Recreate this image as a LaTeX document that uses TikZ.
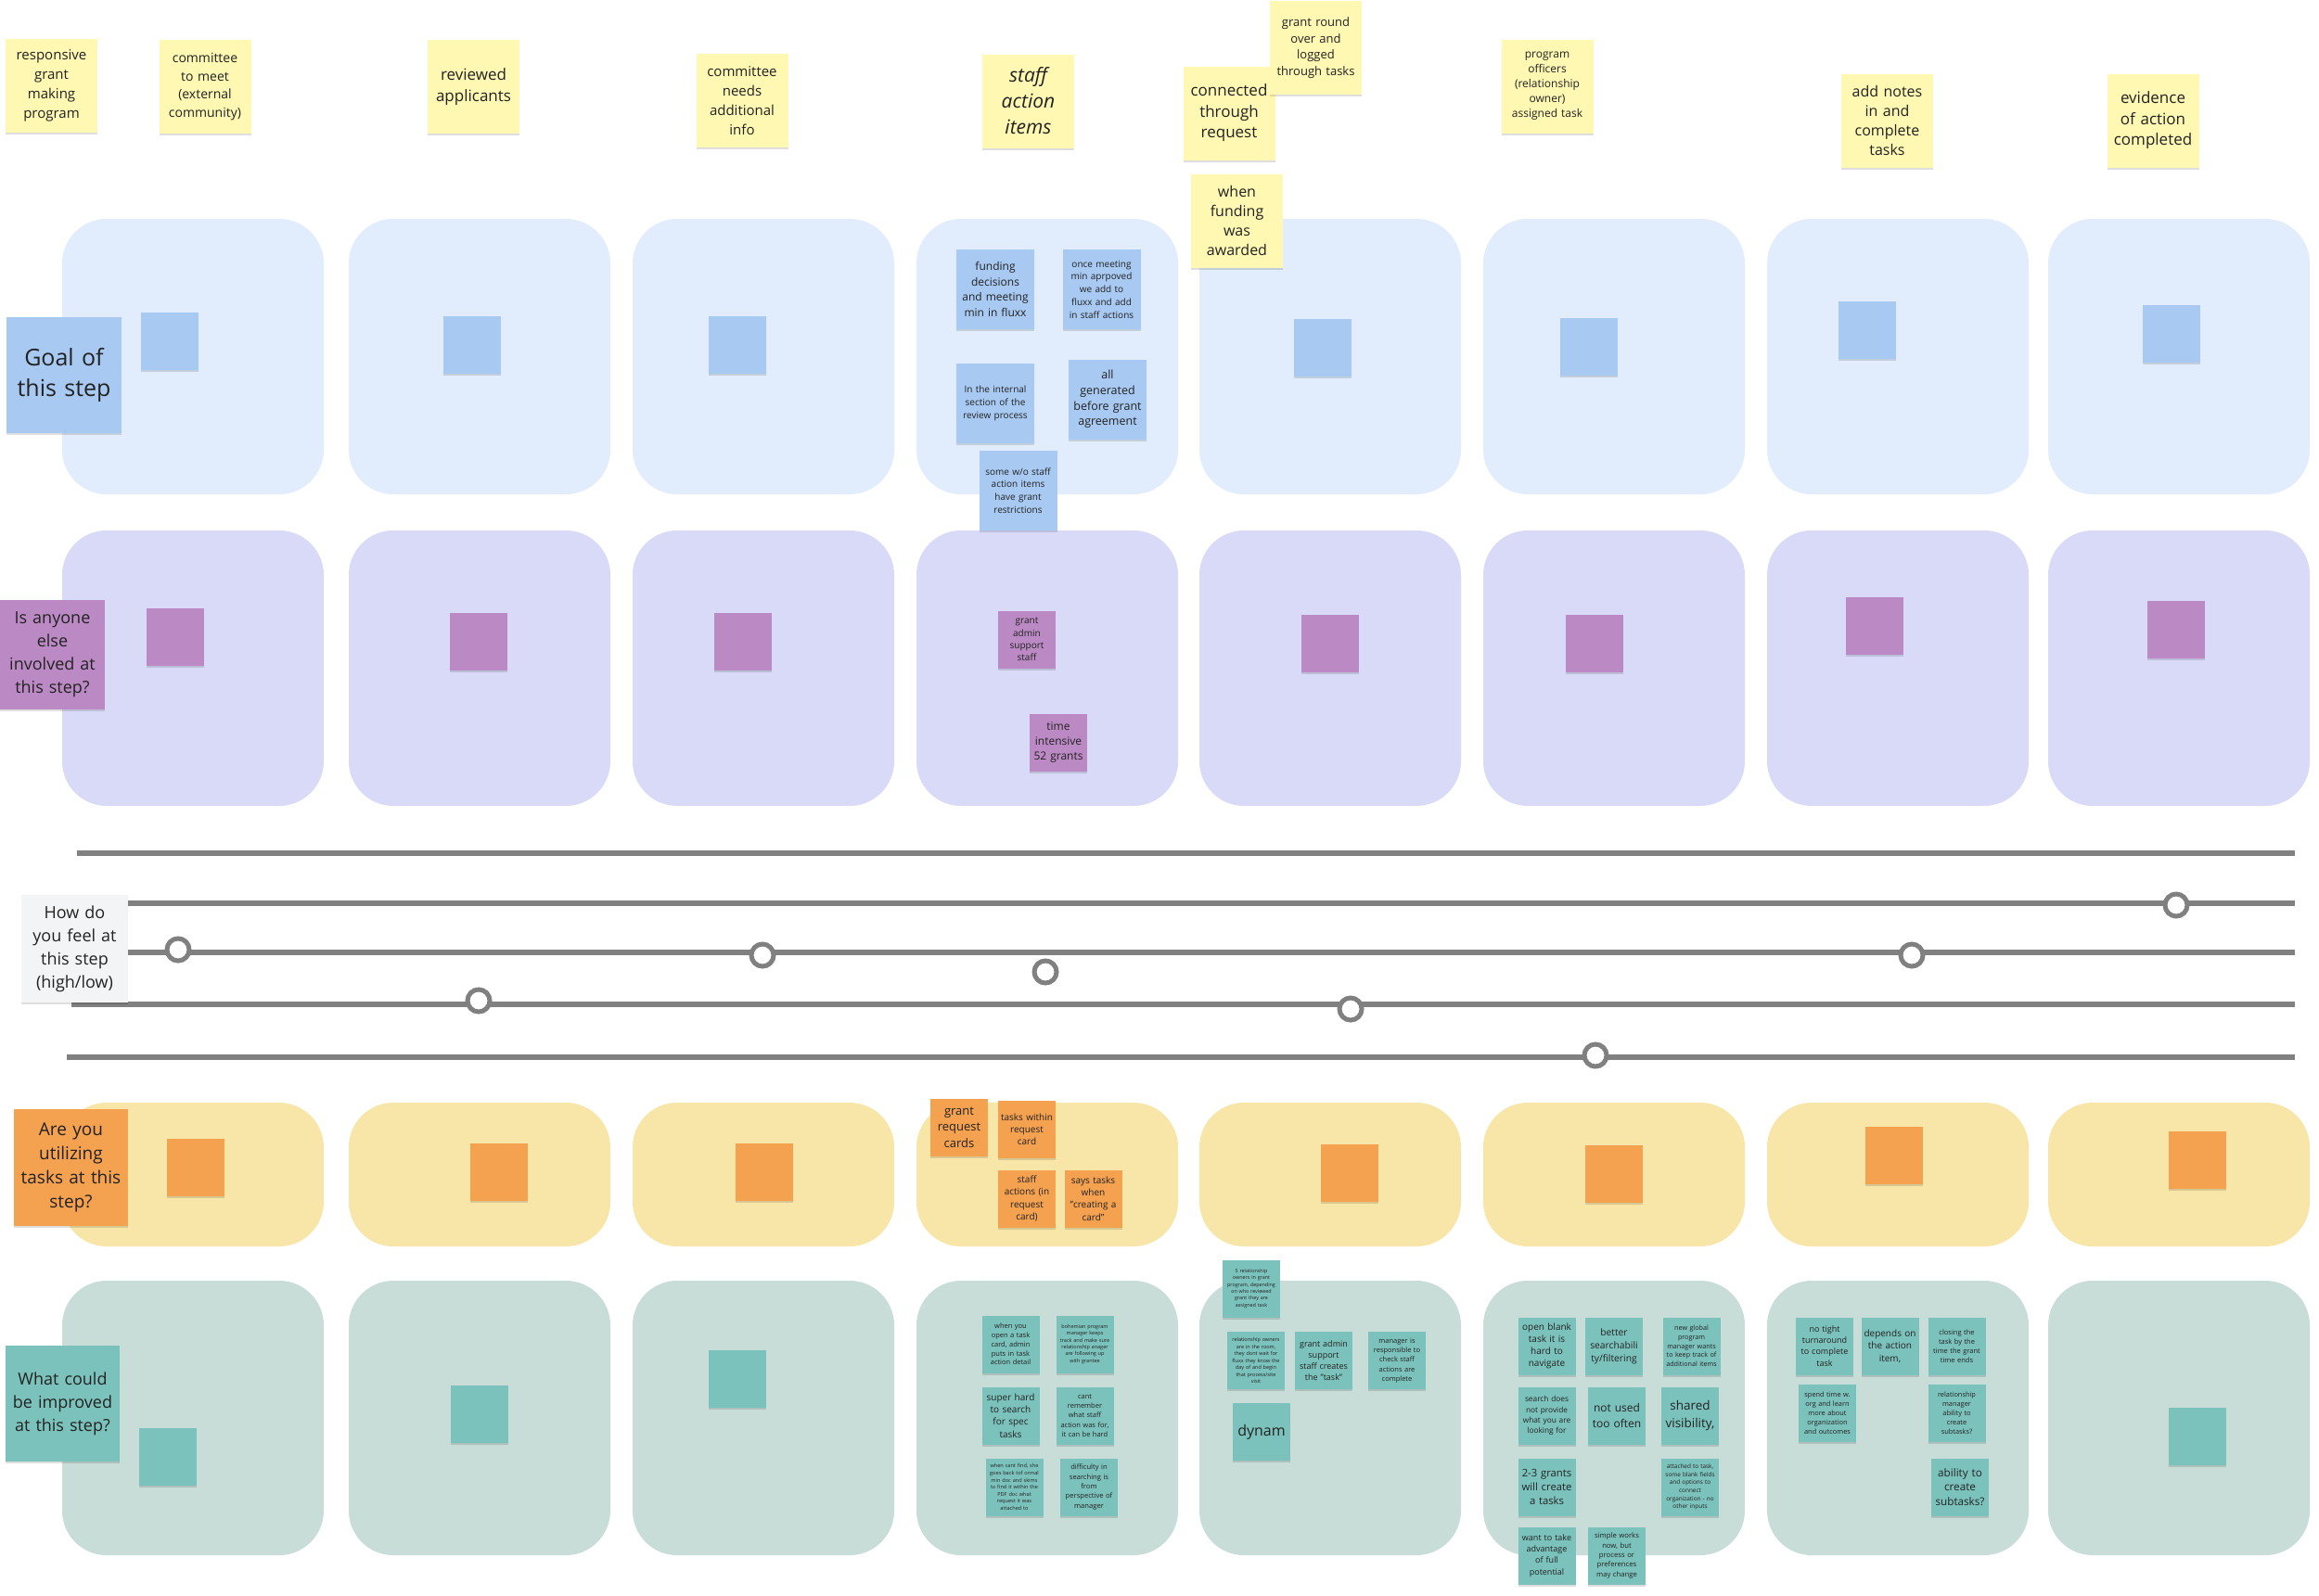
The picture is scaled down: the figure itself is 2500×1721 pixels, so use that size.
\documentclass[tikz,border=0pt]{standalone}
\usepackage{fontspec}
\setmainfont{Open Sans}
\usetikzlibrary{shadows}
\definecolor{ink}{HTML}{222222}
\definecolor{paper}{HTML}{FFF8B3}
\definecolor{goalbg}{HTML}{E1EDFC}
\definecolor{whobg}{HTML}{D8DAF8}
\definecolor{taskbg}{HTML}{F8E6A8}
\definecolor{fixbg}{HTML}{C8DDD7}
\definecolor{goalnote}{HTML}{A8C9F1}
\definecolor{whonote}{HTML}{BB8AC4}
\definecolor{tasknote}{HTML}{F4A150}
\definecolor{fixnote}{HTML}{7CC2BC}
\definecolor{feelnote}{HTML}{F3F4F6}
\definecolor{trackgray}{HTML}{808080}
\newcommand{\fs}[2]{\fontsize{#1}{#2}\selectfont}

\begin{document}
\begin{tikzpicture}[x=1pt, y=-1pt,
  lane/.style={rounded corners=48},
  stk/.style={align=center, text=ink, inner sep=0, outer sep=0,
    drop shadow={shadow xshift=0pt, shadow yshift=-2pt, opacity=0.13, fill=black}},
  topnote/.style={stk, fill=paper, minimum width=99, minimum height=101, text width=99},
  sidenote/.style={stk, minimum width=123, minimum height=125, text width=123},
  blanknote/.style={stk, minimum size=62, text width=62},
  midnote/.style={stk, fill=goalnote, minimum width=84, minimum height=86, text width=84},
  feelline/.style={draw=trackgray, line width=6},
  feeldot/.style={circle, draw=trackgray, line width=5, fill=white, minimum size=24, inner sep=0}]

% Background
\fill[white] (0,0) rectangle (2500,1721);
\useasboundingbox (0,0) rectangle (2500,1721);

% Lanes: goal
\fill[lane, goalbg] (67,236) rectangle (349,533);
\fill[lane, goalbg] (376,236) rectangle (658,533);
\fill[lane, goalbg] (682,236) rectangle (964,533);
\fill[lane, goalbg] (988,236) rectangle (1270,533);
\fill[lane, goalbg] (1293,236) rectangle (1575,533);
\fill[lane, goalbg] (1599,236) rectangle (1881,533);
\fill[lane, goalbg] (1905,236) rectangle (2187,533);
\fill[lane, goalbg] (2208,236) rectangle (2490,533);

% Lanes: who else
\fill[lane, whobg] (67,572) rectangle (349,869);
\fill[lane, whobg] (376,572) rectangle (658,869);
\fill[lane, whobg] (682,572) rectangle (964,869);
\fill[lane, whobg] (988,572) rectangle (1270,869);
\fill[lane, whobg] (1293,572) rectangle (1575,869);
\fill[lane, whobg] (1599,572) rectangle (1881,869);
\fill[lane, whobg] (1905,572) rectangle (2187,869);
\fill[lane, whobg] (2208,572) rectangle (2490,869);

% Lanes: tasks
\fill[lane, taskbg] (67,1189) rectangle (349,1344);
\fill[lane, taskbg] (376,1189) rectangle (658,1344);
\fill[lane, taskbg] (682,1189) rectangle (964,1344);
\fill[lane, taskbg] (988,1189) rectangle (1270,1344);
\fill[lane, taskbg] (1293,1189) rectangle (1575,1344);
\fill[lane, taskbg] (1599,1189) rectangle (1881,1344);
\fill[lane, taskbg] (1905,1189) rectangle (2187,1344);
\fill[lane, taskbg] (2208,1189) rectangle (2490,1344);

% Lanes: improve
\fill[lane, fixbg] (67,1381) rectangle (349,1677);
\fill[lane, fixbg] (376,1381) rectangle (658,1677);
\fill[lane, fixbg] (682,1381) rectangle (964,1677);
\fill[lane, fixbg] (988,1381) rectangle (1270,1677);
\fill[lane, fixbg] (1293,1381) rectangle (1575,1677);
\fill[lane, fixbg] (1599,1381) rectangle (1881,1677);
\fill[lane, fixbg] (1905,1381) rectangle (2187,1677);
\fill[lane, fixbg] (2208,1381) rectangle (2490,1677);

% Feeling scale
\draw[feelline] (83,920) -- (2474,920);
\draw[feelline] (120,974) -- (2474,974);
\draw[feelline] (120,1027) -- (2474,1027);
\draw[feelline] (77,1083) -- (2474,1083);
\draw[feelline] (72,1140) -- (2474,1140);

% Steps
\node[topnote, font=\fs{15}{21}] (s1) at (55.5,92.5) {responsive\\grant\\making\\program};
\node[topnote, font=\fs{14}{19.5}] (s2) at (221,93.5) {committee\\to meet\\(external\\community)};
\node[topnote, font=\fs{17}{23}] (s3) at (510.5,93.5) {reviewed\\applicants};
\node[topnote, font=\fs{15}{21}] (s4) at (800,108.5) {committee\\needs\\additional\\info};
\node[topnote, font={\fs{21}{28}\itshape}] (s5) at (1108.5,109) {staff\\action\\items};
\node[topnote, font=\fs{17}{22.5}] (s6) at (1325,122) {connected\\through\\request};
\node[topnote, font=\fs{13}{17.5}] (s6b) at (1418.5,51.5) {grant round\\over and\\logged\\through tasks};
\node[topnote, font=\fs{16}{21}] (s6c) at (1333.5,238) {when\\funding\\was\\awarded};
\node[topnote, font=\fs{12}{16}] (s7) at (1668,93) {program\\officers\\(relationship\\owner)\\assigned task};
\node[topnote, font=\fs{16}{21}] (s8) at (2034.5,130) {add notes\\in and\\complete\\tasks};
\node[topnote, font=\fs{17}{22.5}] (s9) at (2321,130) {evidence\\of action\\completed};

% Row questions
\node[sidenote, fill=goalnote, minimum width=124, text width=124, font=\fs{25}{33}] (goal) at (69,404) {Goal of\\this step};
\node[sidenote, fill=whonote, minimum width=113, text width=113, minimum height=118, font=\fs{18}{25}] (who) at (56.5,706) {Is anyone\\else\\involved at\\this step?};
\node[sidenote, fill=feelnote, minimum width=115, text width=115, minimum height=116, font=\fs{18}{25}] (feel) at (80.5,1023) {How do\\you feel at\\this step\\(high/low)};
\node[sidenote, fill=tasknote, minimum height=126, font=\fs{19}{26}] (uses) at (76.5,1259) {Are you\\utilizing\\tasks at this\\step?};
\node[sidenote, fill=fixnote, font=\fs{18}{25}] (fix) at (67.5,1513.5) {What could\\be improved\\at this step?};

% Feeling marks
\node[feeldot] (f1) at (192,1024) {};
\node[feeldot] (f2) at (516,1079) {};
\node[feeldot] (f3) at (822,1030) {};
\node[feeldot] (f4) at (1127,1048) {};
\node[feeldot] (f5) at (1456,1088) {};
\node[feeldot] (f6) at (1720,1138) {};
\node[feeldot] (f7) at (2061,1030) {};
\node[feeldot] (f8) at (2346,976) {};

% Goal notes
\node[blanknote, fill=goalnote] (g1) at (182.5,367.5) {};
\node[blanknote, fill=goalnote] (g2) at (509,372) {};
\node[blanknote, fill=goalnote] (g3) at (795,372) {};
\node[midnote, font=\fs{12}{16.7}] (g4a) at (1073,312) {funding\\decisions\\and meeting\\min in fluxx};
\node[midnote, font=\fs{10}{13.8}] (g4b) at (1187.5,312) {once meeting\\min aprpoved\\we add to\\fluxx and add\\in staff actions};
\node[midnote, font=\fs{10}{13.7}] (g4c) at (1073,435) {In the internal\\section of the\\review process};
\node[midnote, font=\fs{12.5}{16.7}] (g4d) at (1194,430.5) {all\\generated\\before grant\\agreement};
\node[midnote, font=\fs{10}{13.7}] (g4e) at (1097.5,529) {some w/o staff\\action items\\have grant\\restrictions};
\node[blanknote, fill=goalnote] (g5) at (1426,374.5) {};
\node[blanknote, fill=goalnote] (g6) at (1712.5,374) {};
\node[blanknote, fill=goalnote] (g7) at (2013,356) {};
\node[blanknote, fill=goalnote] (g8) at (2340.5,359.5) {};

% Who notes
\node[blanknote, fill=whonote] (w1) at (189,687) {};
\node[blanknote, fill=whonote] (w2) at (516,692) {};
\node[blanknote, fill=whonote] (w3) at (801,692) {};
\node[blanknote, fill=whonote, font=\fs{10}{13.3}] (w4a) at (1107,689.5) {grant\\admin\\support\\staff};
\node[blanknote, fill=whonote, font=\fs{12}{15.8}] (w4b) at (1141,800.5) {time\\intensive\\52 grants};
\node[blanknote, fill=whonote] (w5) at (1433.5,693.5) {};
\node[blanknote, fill=whonote] (w6) at (1718.5,693.5) {};
\node[blanknote, fill=whonote] (w7) at (2021,675) {};
\node[blanknote, fill=whonote] (w8) at (2346,679) {};

% Task notes
\node[blanknote, fill=tasknote] (t1) at (211,1259) {};
\node[blanknote, fill=tasknote] (t2) at (538,1263.5) {};
\node[blanknote, fill=tasknote] (t3) at (823.5,1263.5) {};
\node[blanknote, fill=tasknote, font=\fs{13}{17.5}] (t4a) at (1034,1215.5) {grant\\request\\cards};
\node[blanknote, fill=tasknote, font=\fs{10}{13.2}] (t4b) at (1107,1218) {tasks within\\request\\card};
\node[blanknote, fill=tasknote, font=\fs{10}{13.3}] (t4c) at (1107,1292.5) {staff\\actions (in\\request\\card)};
\node[blanknote, fill=tasknote, font=\fs{10}{13.3}] (t4d) at (1178.5,1292.5) {says tasks\\when\\"creating a\\card"};
\node[blanknote, fill=tasknote] (t5) at (1455,1265) {};
\node[blanknote, fill=tasknote] (t6) at (1740,1266) {};
\node[blanknote, fill=tasknote] (t7) at (2042,1246) {};
\node[blanknote, fill=tasknote] (t8) at (2368.5,1251) {};

% Improve notes
\node[blanknote, fill=fixnote] (i1) at (181,1571) {};
\node[blanknote, fill=fixnote] (i2) at (517,1525) {};
\node[blanknote, fill=fixnote] (i3) at (795,1487) {};
\node[blanknote, fill=fixnote, font=\fs{7.5}{9.8}] (i4a) at (1089.5,1449.5) {when you\\open a task\\card, admin\\puts in task\\action detail};
\node[blanknote, fill=fixnote, font=\fs{5.5}{7.3}] (i4b) at (1169.5,1449.5) {bohemian program\\manager keeps\\track and make sure\\relationship anager\\are following up\\with grantee};
\node[blanknote, fill=fixnote, font=\fs{10}{13.2}] (i4c) at (1089.5,1526.5) {super hard\\to search\\for spec\\tasks};
\node[blanknote, fill=fixnote, font=\fs{7.5}{10.2}] (i4d) at (1169.5,1526.5) {cant\\remember\\what staff\\action was for,\\it can be hard};
\node[blanknote, fill=fixnote, font=\fs{5.6}{7.6}] (i4e) at (1093.5,1603.5) {when cant find, she\\goes back tof ormal\\min doc and skims\\to find it within the\\PDF doc what\\request it was\\attached to};
\node[blanknote, fill=fixnote, font=\fs{7.6}{10.3}] (i4f) at (1174,1603.5) {difficulty in\\searching is\\from\\perspective of\\manager};
\node[blanknote, fill=fixnote, font=\fs{5.4}{7.3}] (i5a) at (1349,1389.5) {5 relationship\\owners in grant\\program, depending\\on who reviewed\\grant they are\\assigned task};
\node[blanknote, fill=fixnote, font=\fs{5.5}{7.5}] (i5b) at (1354,1467) {relationship owners\\are in the room,\\they dont wait for\\fluxx they know the\\day of and begin\\that process/site\\visit};
\node[blanknote, fill=fixnote, font=\fs{9}{12}] (i5c) at (1427,1467) {grant admin\\support\\staff creates\\the "task"};
\node[blanknote, fill=fixnote, font=\fs{7.5}{10.2}] (i5d) at (1506,1467) {manager is\\responsible to\\check staff\\actions are\\complete};
\node[blanknote, fill=fixnote, font=\fs{16}{21}] (i5e) at (1360,1544) {dynam};
\node[blanknote, fill=fixnote, font=\fs{10}{13.2}] (i6a) at (1667.5,1451.5) {open blank\\task it is\\hard to\\navigate};
\node[blanknote, fill=fixnote, font=\fs{10.3}{14}] (i6b) at (1740,1451.5) {better\\searchabili\\ty/filtering};
\node[blanknote, fill=fixnote, font=\fs{7.2}{9.7}] (i6c) at (1823.5,1451.5) {new global\\program\\manager wants\\to keep track of\\additional items};
\node[blanknote, fill=fixnote, font=\fs{8.3}{11.2}] (i6d) at (1667.5,1526.5) {search does\\not provide\\what you are\\looking for};
\node[blanknote, fill=fixnote, font=\fs{12}{16.3}] (i6e) at (1743,1526.5) {not used\\too often};
\node[blanknote, fill=fixnote, font=\fs{13.5}{18.3}] (i6f) at (1822,1526.5) {shared\\visibility,};
\node[blanknote, fill=fixnote, font=\fs{11.3}{15.2}] (i6g) at (1667.5,1603.5) {2-3 grants\\will create\\a tasks};
\node[blanknote, fill=fixnote, font=\fs{6.4}{8.7}] (i6h) at (1822,1603.5) {attached to task,\\some blank fields\\and options to\\connect\\organization - no\\other inputs};
\node[blanknote, fill=fixnote, font=\fs{9}{12.2}] (i6i) at (1667.5,1677.5) {want to take\\advantage\\of full\\potential};
\node[blanknote, fill=fixnote, font=\fs{7.7}{10.4}] (i6j) at (1743,1677.5) {simple works\\now, but\\process or\\preferences\\may change};
\node[blanknote, fill=fixnote, font=\fs{9}{12.1}] (i7a) at (1967,1451.5) {no tight\\turnaround\\to complete\\task};
\node[blanknote, fill=fixnote, font=\fs{10}{13.5}] (i7b) at (2037.5,1451.5) {depends on\\the action\\item,};
\node[blanknote, fill=fixnote, font=\fs{7.5}{10.1}] (i7c) at (2109.5,1451.5) {closing the\\task by the\\time the grant\\time ends};
\node[blanknote, fill=fixnote, font=\fs{7.4}{10}] (i7d) at (1970,1524) {spend time w.\\org and learn\\more about\\organization\\and outcomes};
\node[blanknote, fill=fixnote, font=\fs{7.4}{10}] (i7e) at (2109.5,1524) {relationship\\manager\\ability to\\create\\subtasks?};
\node[blanknote, fill=fixnote, font=\fs{11.7}{15.8}] (i7f) at (2113,1603.5) {ability to\\create\\subtasks?};
\node[blanknote, fill=fixnote] (i8) at (2368.5,1549) {};

\end{tikzpicture}
\end{document}
